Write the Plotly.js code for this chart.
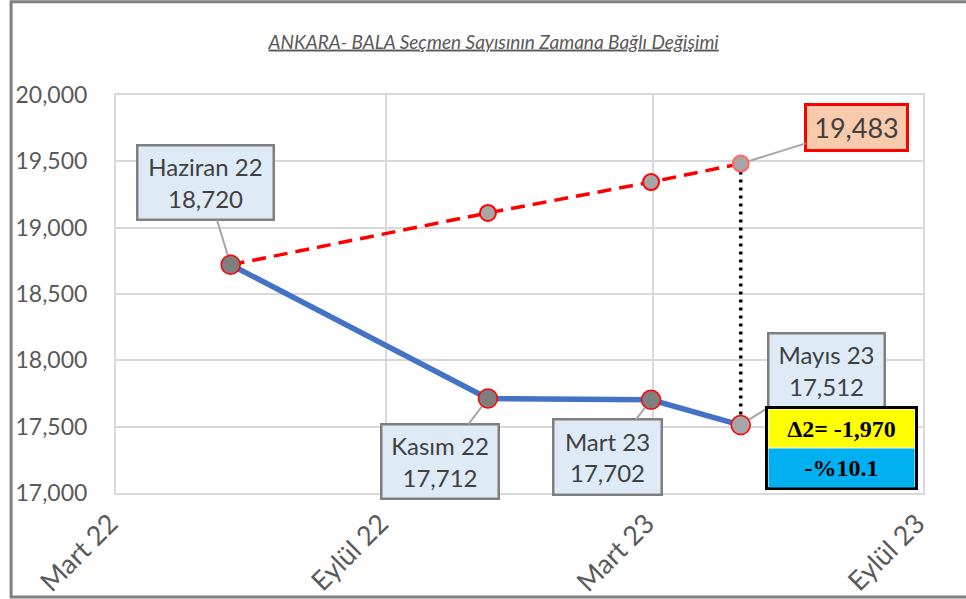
<!DOCTYPE html>
<html>
<head>
<meta charset="utf-8">
<script src="https://cdn.plot.ly/plotly-3.0.1.min.js"></script>
<style>html,body{margin:0;padding:0;background:#fff;}#chart{width:966px;height:599px;}</style>
</head>
<body>
<div id="chart"></div>
<script>
// Data
const pointDates = ['2022-05-18', '2022-11-09', '2023-02-28', '2023-04-30'];
const pointNames = ['Haziran 22', 'Kasım 22', 'Mart 23', 'Mayıs 23'];
const actualVoters = [18720, 17712, 17702, 17512];
const expectedVoters = [18720, 19111, 19344, 19483];
const tickDates = ['2022-03-01', '2022-09-01', '2023-03-01', '2023-09-01'];
const tickLabels = ['Mart 22', 'Eylül 22', 'Mart 23', 'Eylül 23'];
const deltaText = 'Δ2= -1,970';
const pctText = '-%10.1';

const fmt = v => v.toLocaleString('en-US');
const last = pointDates.length - 1;

const traces = [
  {
    x: [pointDates[last], pointDates[last]],
    y: [expectedVoters[last], actualVoters[last]],
    mode: 'lines',
    line: {color: '#000000', width: 3.5, dash: '3px,5px'},
    hoverinfo: 'skip', showlegend: false
  },
  {
    x: pointDates, y: expectedVoters,
    mode: 'lines+markers',
    line: {color: '#ff0000', width: 3.5, dash: '14px,8px'},
    marker: {size: 16, color: ['#a6a6a6', '#a6a6a6', '#a6a6a6', '#a6a6a6'],
             line: {color: ['#ff0000', '#ff0000', '#ff0000', '#ff6666'], width: 2}},
    showlegend: false
  },
  {
    x: pointDates, y: actualVoters,
    mode: 'lines+markers',
    line: {color: '#4472c4', width: 5.5},
    marker: {size: 19, color: ['#7f7f7f', '#7f7f7f', '#7f7f7f', '#a6a6a6'],
             line: {color: '#ff0000', width: 1.5}},
    showlegend: false
  }
];

const labelFont = {family: 'Lato, sans-serif', size: 24, color: '#404040'};
function callout(i, ax, ay, w, h) {
  return {
    x: pointDates[i], y: actualVoters[i], xref: 'x', yref: 'y',
    text: pointNames[i] + '<br>' + fmt(actualVoters[i]),
    showarrow: true, arrowhead: 0, arrowwidth: 2, arrowcolor: '#a6a6a6',
    ax: ax, ay: ay, axref: 'pixel', ayref: 'pixel', standoff: 10,
    bgcolor: '#deebf7', bordercolor: '#7f7f7f', borderwidth: 2.5, borderpad: 0,
    width: w, height: h, font: labelFont, align: 'center'
  };
}

const annotations = [
  callout(0, -25, -82, 134, 72),
  callout(1, -48, 63, 115, 72),
  callout(2, -44, 57, 106, 73),
  callout(3, 86, -55, 114, 72),
  {
    x: pointDates[last], y: expectedVoters[last], xref: 'x', yref: 'y',
    text: fmt(expectedVoters[last]),
    showarrow: true, arrowhead: 0, arrowwidth: 2, arrowcolor: '#a6a6a6',
    ax: 116, ay: -36, axref: 'pixel', ayref: 'pixel', standoff: 9,
    bgcolor: '#f8cbad', bordercolor: '#ff0000', borderwidth: 3, borderpad: 0,
    width: 99, height: 43, font: {family: 'Lato, sans-serif', size: 27, color: '#404040'}
  },
  {
    x: pointDates[last], y: actualVoters[last], xref: 'x', yref: 'y',
    text: '', showarrow: false, xshift: 101, yshift: -23,
    bgcolor: '#ffffff', bordercolor: '#000000', borderwidth: 3, borderpad: 0,
    width: 147, height: 78
  },
  {
    x: pointDates[last], y: actualVoters[last], xref: 'x', yref: 'y',
    text: '<b>' + deltaText + '</b>', showarrow: false, xshift: 101, yshift: -3,
    bgcolor: '#ffff00', borderpad: 0, width: 145, height: 37,
    font: {family: '"Liberation Serif", "Times New Roman", serif', size: 24, color: '#000000'}
  },
  {
    x: pointDates[last], y: actualVoters[last], xref: 'x', yref: 'y',
    text: '<b>' + pctText + '</b>', showarrow: false, xshift: 101, yshift: -43,
    bgcolor: '#00b0f0', borderpad: 0, width: 145, height: 38,
    font: {family: '"Liberation Serif", "Times New Roman", serif', size: 24, color: '#000000'}
  }
];

const layout = {
  width: 966, height: 599,
  margin: {l: 116, r: 43, t: 95, b: 106},
  paper_bgcolor: '#ffffff', plot_bgcolor: '#ffffff',
  font: {family: 'Lato, sans-serif', color: '#595959'},
  title: {
    text: 'ANKARA- BALA Seçmen Sayısının Zamana Bağlı Değişimi',
    font: {family: 'Lato, sans-serif', size: 19, color: '#595959', style: 'italic', lineposition: 'under'},
    xref: 'container', yref: 'container', x: 0.511, y: 0.93, xanchor: 'center', yanchor: 'middle'
  },
  xaxis: {
    type: 'date', range: [tickDates[0], tickDates[tickDates.length - 1]],
    tickmode: 'array', tickvals: tickDates, ticktext: tickLabels,
    tickangle: -45, tickfont: {size: 27, color: '#595959'},
    ticks: '', ticklabelstandoff: 2, ticklabelshift: -6,
    showgrid: true, gridcolor: '#d9d9d9', gridwidth: 2,
    showline: true, mirror: true, linecolor: '#d9d9d9', linewidth: 2,
    zeroline: false, fixedrange: true
  },
  yaxis: {
    range: [17000, 20000], tick0: 17000, dtick: 500, tickformat: ',d',
    tickfont: {size: 23, color: '#595959'},
    ticks: '', ticklabelstandoff: 22,
    showgrid: true, gridcolor: '#d9d9d9', gridwidth: 2,
    showline: true, mirror: true, linecolor: '#d9d9d9', linewidth: 2,
    zeroline: false, fixedrange: true
  },
  shapes: [{
    type: 'rect', xref: 'paper', yref: 'paper',
    x0: -0.130, x1: 1.06, y0: -0.261, y1: 1.234,
    line: {color: '#808080', width: 3}, layer: 'below'
  }],
  annotations: annotations,
  showlegend: false
};

Plotly.newPlot('chart', traces, layout, {displayModeBar: false, staticPlot: true});
</script>
</body>
</html>
